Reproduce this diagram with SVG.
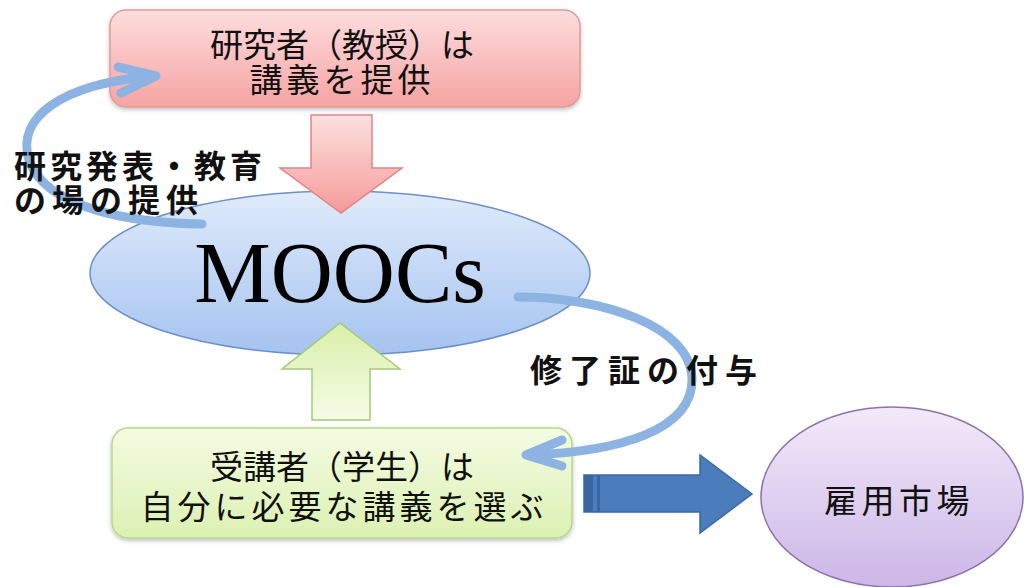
<svg xmlns="http://www.w3.org/2000/svg" width="1024" height="587" viewBox="0 0 1024 587">
<defs>
<linearGradient id="gPink" x1="0" y1="0" x2="0" y2="1"><stop offset="0" stop-color="#fddddd"/><stop offset="1" stop-color="#f6a3a3"/></linearGradient>
<linearGradient id="gPinkArrow" x1="0" y1="0" x2="0" y2="1"><stop offset="0" stop-color="#fde0e0"/><stop offset="1" stop-color="#f59a9a"/></linearGradient>
<linearGradient id="gBlue" x1="0" y1="0" x2="0" y2="1"><stop offset="0" stop-color="#e0ebfb"/><stop offset="1" stop-color="#a5c3f0"/></linearGradient>
<linearGradient id="gGreen" x1="0" y1="0" x2="0" y2="1"><stop offset="0" stop-color="#f4fbe2"/><stop offset="1" stop-color="#dcf1b2"/></linearGradient>
<linearGradient id="gGreenArrow" x1="0" y1="0" x2="0" y2="1"><stop offset="0" stop-color="#d9efa8"/><stop offset="1" stop-color="#f5fce6"/></linearGradient>
<linearGradient id="gPurple" x1="0" y1="0" x2="0" y2="1"><stop offset="0" stop-color="#f2eaf9"/><stop offset="1" stop-color="#ccb6e7"/></linearGradient>
<filter id="sh" x="-10%" y="-10%" width="120%" height="130%"><feDropShadow dx="0" dy="2" stdDeviation="2" flood-color="#000" flood-opacity="0.25"/></filter>
</defs>
<style>
.jp{font-family:"Noto Sans CJK JP","Noto Sans CJK SC",sans-serif;fill:#111;font-size:33px;}
.lbl{font-family:"Noto Sans CJK JP","Noto Sans CJK SC",sans-serif;font-weight:700;fill:#111;font-size:32px;}
.curve{fill:none;stroke:#8db3e2;stroke-width:9;stroke-linecap:round;stroke-linejoin:round;}
</style>
<rect width="1024" height="587" fill="#ffffff"/>

<g id="moocs">
<ellipse cx="340" cy="273" rx="250" ry="82" fill="url(#gBlue)" stroke="#6d8fc8" stroke-width="1.5"/>
<text x="340" y="302" text-anchor="middle" font-family="'Liberation Serif',serif" font-size="86" fill="#000">MOOCs</text>
</g>

<g id="researcher">
<rect x="110" y="10" width="470" height="97" rx="16" fill="url(#gPink)" stroke="#e09a9a" stroke-width="1.5" filter="url(#sh)"/>
<text class="jp" x="342" y="57" text-anchor="middle">研究者（教授）は</text>
<text class="jp" x="342" y="92" text-anchor="middle" letter-spacing="4">講義を提供</text>
</g>

<g id="student">
<rect x="112" y="428" width="460" height="110" rx="16" fill="url(#gGreen)" stroke="#b5d88a" stroke-width="1.5" filter="url(#sh)"/>
<text class="jp" x="342" y="479" text-anchor="middle">受講者（学生）は</text>
<text class="jp" x="344" y="519" text-anchor="middle" letter-spacing="4">自分に必要な講義を選ぶ</text>
</g>

<g id="market">
<ellipse cx="892" cy="497" rx="131" ry="90" fill="url(#gPurple)" stroke="#8a72aa" stroke-width="1.5"/>
<text class="jp" x="899" y="513" text-anchor="middle" letter-spacing="4.5">雇用市場</text>
</g>

<g id="connectors">
<polygon points="311,115 372,115 372,168 402,168 341,213 280,168 311,168" fill="url(#gPinkArrow)" stroke="#e08585" stroke-width="1.5"/>
<polygon points="340,323 400,369 370,369 370,420 312,420 312,369 282,369" fill="url(#gGreenArrow)" stroke="#a6c878" stroke-width="1.5"/>
<polygon points="584,475 700,475 700,455 752,494 700,533 700,512 584,512" fill="#4b7dbd" stroke="#3a68a2" stroke-width="1.5"/>
<rect x="584" y="475" width="9" height="37" fill="#3a669f"/>
<rect x="597" y="475" width="3" height="37" fill="#3a669f"/>
<path class="curve" d="M202,224 C130,223 45,208 29,160 C16,118 60,84 154,76"/>
<polyline class="curve" points="118,67 156,76 121,93"/>
<path class="curve" d="M518,297 C600,297 692,325 692,380 C692,430 620,452 528,455"/>
<polyline class="curve" points="562,440 526,455 562,466"/>
</g>

<g id="labels">
<text class="lbl" x="14" y="178" letter-spacing="4">研究発表・教育</text>
<text class="lbl" x="14" y="212" letter-spacing="6">の場の提供</text>
<text class="lbl" x="530" y="382" letter-spacing="7">修了証の付与</text>
</g>
</svg>
